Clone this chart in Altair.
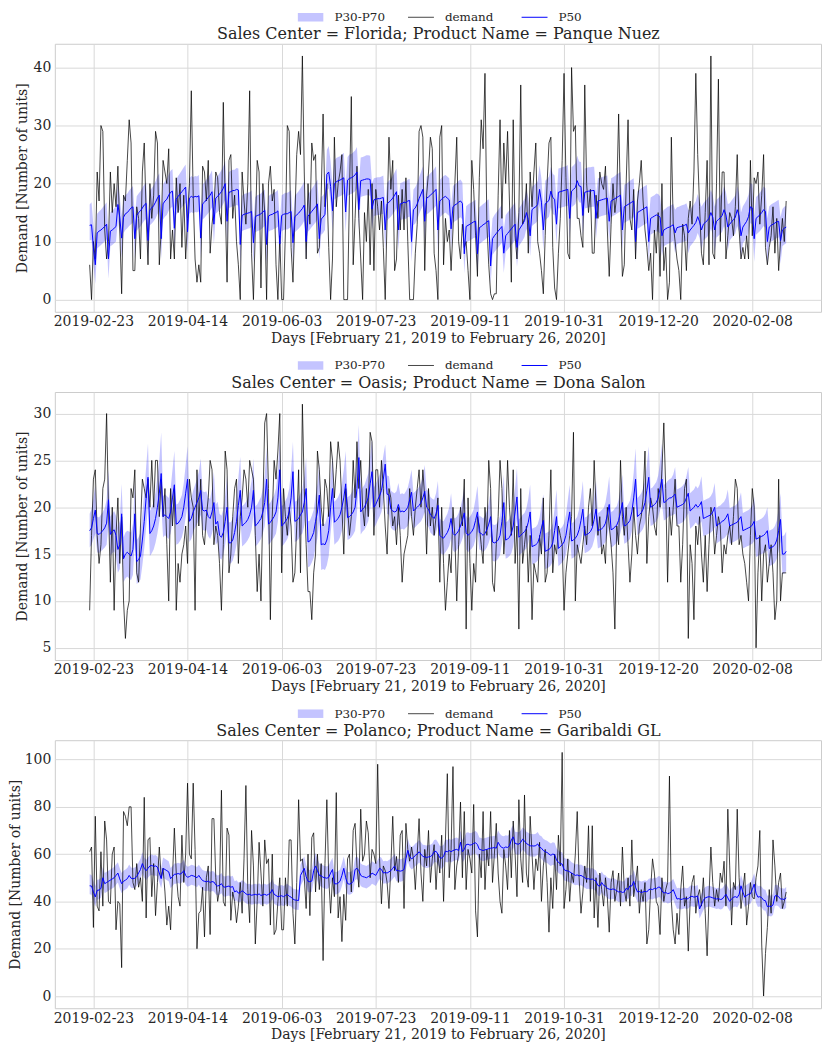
import altair as alt
import pandas as pd

START = "2019-02-21"
END = "2020-02-26"
titles = [
    "Sales Center = Florida; Product Name = Panque Nuez",
    "Sales Center = Oasis; Product Name = Dona Salon",
    "Sales Center = Polanco; Product Name = Garibaldi GL",
]
x_title = "Days [February 21, 2019 to February 26, 2020]"
y_title = "Demand [Number of units]"
x_tick_labels = ["2019-02-23", "2019-04-14", "2019-06-03", "2019-07-23",
                 "2019-09-11", "2019-10-31", "2019-12-20", "2020-02-08"]
y_ticks = [[0, 10, 20, 30, 40], [5, 10, 15, 20, 25, 30], [0, 20, 40, 60, 80, 100]]
y_domains = [[-2.1, 44.1], [3.7, 32.3], [-5.15, 108.15]]
legend_labels = ["P30-P70", "demand", "P50"]

# ---------------- Panel 1: Florida / Panque Nuez ----------------
p1_demand = [6, 0, 10, 7,
    22, 17, 30, 29, 12, 7, 10,  22, 15, 20, 16, 23, 12, 1,
    18, 17, 24, 31, 27, 5, 5,  16, 14, 7, 22, 27, 15, 6,
    20, 14, 18, 29, 27, 6, 12,  24, 22, 20, 26, 7, 12, 7,
    21, 15, 20, 9, 18, 7, 14,  20, 36, 18, 7, 3, 6, 3,
    23, 22, 17, 24, 8, 13, 16,  22, 21, 15, 13, 34, 17, 3,
    24, 25, 14, 18, 10, 6, 0,  22, 17, 13, 20, 36, 8, 0,
    12, 24, 22, 2, 20, 15, 0,  20, 23, 17, 19, 6, 0, 11,
    0, 0, 12, 30, 29, 9, 3,  14, 25, 29, 25, 42, 22, 7,
    20, 13, 27, 24, 25, 8, 9,  18, 32, 16, 20, 9, 0, 7,
    28, 16, 20, 22, 25, 0, 0,  0, 18, 35, 6, 14, 23, 14,
    7, 0, 15, 10, 19, 6, 20,  5, 19, 16, 12, 17, 9, 0,
    14, 28, 19, 24, 5, 7, 18,  12, 19, 12, 21, 10, 0, 0,
    0, 8, 13, 29, 30, 28, 5,  18, 22, 28, 26, 8, 5, 0,
    28, 30, 6, 14, 10, 12, 5,  12, 20, 28, 10, 7, 13, 9,
    10, 5, 0, 24, 19, 11, 4,  21, 31, 26, 39, 13, 6, 1,
    0, 1, 1, 18, 31, 14, 27,  20, 29, 17, 3, 31, 11, 7,
    15, 37, 13, 14, 20, 8, 22,  16, 22, 27, 10, 8, 5, 1,
    11, 20, 27, 28, 9, 2, 0,  8, 14, 24, 39, 21, 8, 7,
    40, 29, 30, 14, 14, 11, 9,  37, 20, 15, 19, 8, 8, 18,
    14, 22, 20, 19, 23, 12, 4,  13, 20, 15, 18, 32, 16, 4,
    6, 20, 31, 14, 12, 19, 7,  17, 20, 24, 17, 12, 9, 5,
    8, 0, 12, 8, 15, 4, 20,  5, 9, 0, 3, 28, 13, 10,
    7, 5, 0, 13, 11, 5, 14,  17, 13, 22, 39, 25, 16, 8,
    6, 15, 24, 6, 42, 8, 7,  20, 38, 10, 22, 22, 7, 11,
    15, 14, 11, 16, 25, 12, 7,  9, 7, 11, 7, 24, 11, 21,
    20, 22, 13, 18, 25, 9, 6,  9, 11, 16, 8, 14, 5, 10,
    14, 10, 17]

p1_p50 = [12.8, 12.9, 9.0, 6.0,
    11.5, 11.8, 12.0, 12.3, 12.6, 13.0, 7.0,  11.8, 12.0, 12.3, 12.6, 16.4, 14.2, 10.6,
    14.2, 14.8, 15.0, 15.4, 15.8, 16.0, 10.5,  14.5, 15.0, 15.3, 15.8, 16.3, 16.6, 10.2,
    15.5, 15.8, 16.2, 16.8, 17.5, 18.0, 10.5,  16.5, 17.0, 17.3, 18.0, 18.5, 18.7, 12.3,
    17.3, 17.8, 18.2, 18.6, 19.0, 19.4, 11.7,  17.5, 17.8, 17.6, 17.8, 17.7, 17.9, 10.6,
    16.5, 16.8, 17.2, 17.6, 18.0, 18.6, 13.0,  17.5, 17.8, 18.2, 18.6, 19.2, 20.0, 13.5,
    18.5, 18.6, 18.8, 18.8, 19.0, 18.9, 9.5,  14.5, 14.7, 14.8, 14.9, 15.0, 15.2, 9.8,
    14.3, 14.5, 14.6, 14.8, 15.1, 15.4, 9.5,  14.4, 14.6, 14.7, 14.9, 15.0, 15.3, 9.6,
    14.5, 14.7, 14.8, 14.8, 15.0, 15.2, 9.8,  14.3, 14.6, 14.9, 15.3, 15.7, 16.3, 10.0,
    14.4, 14.8, 15.2, 15.6, 16.0, 16.5, 10.5,  13.9, 14.2, 14.7, 21.6, 22.0, 19.5, 15.3,
    20.0, 20.3, 20.5, 20.6, 20.8, 21.0, 15.1,  20.6, 20.9, 21.0, 21.2, 21.5, 22.0, 15.5,
    20.5, 20.6, 20.7, 20.8, 20.8, 20.7, 15.6,  17.2, 17.3, 17.4, 17.4, 17.5, 17.6, 12.0,
    16.5, 16.8, 17.1, 17.5, 18.0, 18.6, 12.0,  16.5, 16.6, 16.8, 16.7, 17.0, 17.1, 10.0,
    15.5, 15.8, 16.5, 17.4, 18.2, 19.0, 13.5,  17.5, 17.7, 18.0, 18.3, 18.6, 19.0, 12.0,
    17.0, 17.3, 17.6, 17.8, 17.5, 17.2, 12.2,  16.0, 16.3, 16.5, 16.8, 17.0, 16.6, 7.9,
    12.6, 12.8, 13.0, 13.2, 13.4, 13.5, 7.9,  12.4, 12.6, 12.9, 13.1, 13.4, 13.6, 5.8,
    10.5, 11.0, 11.4, 11.8, 12.2, 12.6, 8.0,  11.0, 11.4, 11.8, 12.2, 12.6, 13.0, 9.0,
    12.0, 12.5, 13.0, 13.6, 15.0, 13.8, 11.0,  15.5, 15.8, 16.0, 16.4, 19.0, 16.8, 12.0,
    16.5, 16.8, 17.1, 18.7, 17.6, 17.3, 13.0,  18.5, 18.6, 18.7, 18.8, 18.9, 19.0, 14.0,
    18.7, 19.0, 19.3, 20.5, 19.6, 19.5, 14.5,  18.5, 18.6, 18.7, 18.7, 18.8, 18.8, 14.0,
    17.0, 17.1, 17.2, 17.3, 17.4, 17.5, 13.5,  17.0, 17.2, 17.4, 17.6, 17.8, 18.0, 12.0,
    16.0, 16.2, 16.4, 16.6, 16.8, 17.0, 10.0,  15.0, 15.2, 15.4, 15.6, 15.8, 16.0, 10.0,
    14.0, 14.2, 14.4, 14.6, 14.5, 14.2, 11.0,  12.0, 12.2, 12.4, 12.5, 12.7, 12.9, 11.5,
    12.4, 12.5, 12.6, 12.7, 12.8, 13.0, 11.5,  12.0, 12.4, 12.8, 13.3, 14.3, 13.4, 12.0,
    13.0, 13.3, 13.6, 14.0, 15.0, 14.2, 12.0,  13.5, 13.8, 14.1, 14.5, 15.5, 14.6, 12.5,
    13.0, 13.4, 13.8, 14.2, 15.5, 14.4, 11.0,  12.5, 13.0, 13.5, 14.3, 16.0, 15.8, 10.5,
    14.0, 14.3, 14.6, 15.0, 15.5, 15.2, 10.0,  12.5, 12.8, 13.0, 13.2, 13.4, 13.5, 10.2,
    12.0, 12.3, 12.5]

p1_p30 = [10.2, 10.3, 6.2, 2.7,
    8.8, 9.1, 9.4, 9.7, 10.0, 10.4, 3.6,  9.2, 9.4, 9.7, 10.0, 13.5, 11.5, 7.2,
    11.5, 12.0, 12.3, 12.7, 13.0, 13.3, 7.0,  11.8, 12.3, 12.6, 13.1, 13.6, 13.9, 6.8,
    12.8, 13.1, 13.5, 14.0, 14.7, 15.2, 7.0,  13.8, 14.3, 14.6, 15.3, 15.8, 16.0, 8.8,
    14.6, 15.1, 15.5, 15.9, 16.3, 16.7, 8.2,  14.8, 15.1, 14.9, 15.1, 15.0, 15.2, 7.1,
    13.8, 14.1, 14.5, 14.9, 15.3, 15.9, 9.5,  14.8, 15.1, 15.5, 15.9, 16.5, 17.2, 10.0,
    15.8, 15.9, 16.1, 16.1, 16.3, 16.2, 6.0,  11.8, 12.0, 12.1, 12.2, 12.3, 12.5, 6.3,
    11.6, 11.8, 11.9, 12.1, 12.4, 12.7, 6.0,  11.7, 11.9, 12.0, 12.2, 12.3, 12.6, 6.1,
    11.8, 12.0, 12.1, 12.1, 12.3, 12.5, 6.3,  11.6, 11.9, 12.2, 12.6, 13.0, 13.6, 6.5,
    11.7, 12.1, 12.5, 12.9, 13.3, 13.8, 7.0,  11.2, 11.5, 12.0, 18.8, 19.2, 16.7, 11.8,
    17.2, 17.5, 17.7, 17.8, 18.0, 18.2, 11.6,  17.8, 18.1, 18.2, 18.4, 18.7, 19.2, 12.0,
    17.7, 17.8, 17.9, 18.0, 18.0, 17.9, 12.1,  14.4, 14.5, 14.6, 14.6, 14.7, 14.8, 8.5,
    13.7, 14.0, 14.3, 14.7, 15.2, 15.8, 8.5,  13.7, 13.8, 14.0, 13.9, 14.2, 14.3, 6.5,
    12.8, 13.1, 13.8, 14.7, 15.5, 16.2, 10.0,  14.7, 14.9, 15.2, 15.5, 15.8, 16.2, 8.5,
    14.2, 14.5, 14.8, 15.0, 14.7, 14.4, 8.7,  13.2, 13.5, 13.7, 14.0, 14.2, 13.8, 4.5,
    9.8, 10.0, 10.2, 10.4, 10.6, 10.7, 4.5,  9.6, 9.8, 10.1, 10.3, 10.6, 10.8, 2.5,
    7.7, 8.2, 8.6, 9.0, 9.4, 9.8, 4.6,  8.2, 8.6, 9.0, 9.4, 9.8, 10.2, 5.6,
    9.2, 9.7, 10.2, 10.8, 12.2, 11.0, 7.5,  12.7, 13.0, 13.2, 13.6, 16.2, 14.0, 8.5,
    13.7, 14.0, 14.3, 15.9, 14.8, 14.5, 9.5,  15.7, 15.8, 15.9, 16.0, 16.1, 16.2, 10.5,
    15.9, 16.2, 16.5, 17.7, 16.8, 16.7, 11.0,  15.7, 15.8, 15.9, 15.9, 16.0, 16.0, 10.5,
    14.2, 14.3, 14.4, 14.5, 14.6, 14.7, 10.0,  14.2, 14.4, 14.6, 14.8, 15.0, 15.2, 8.5,
    13.2, 13.4, 13.6, 13.8, 14.0, 14.2, 6.5,  12.2, 12.4, 12.6, 12.8, 13.0, 13.2, 6.5,
    11.2, 11.4, 11.6, 11.8, 11.7, 11.4, 7.5,  9.2, 9.4, 9.6, 9.7, 9.9, 10.1, 8.0,
    9.6, 9.7, 9.8, 9.9, 10.0, 10.2, 8.0,  9.2, 9.6, 10.0, 10.5, 11.5, 10.6, 8.5,
    10.2, 10.5, 10.8, 11.2, 12.2, 11.4, 8.0,  10.7, 11.0, 11.3, 11.7, 12.7, 11.8, 8.5,
    10.2, 10.6, 11.0, 11.4, 12.7, 11.6, 7.0,  9.7, 10.2, 10.7, 11.5, 13.2, 13.0, 6.5,
    11.2, 11.5, 11.8, 12.2, 12.7, 12.4, 6.0,  9.7, 10.0, 10.2, 10.4, 10.6, 10.7, 6.2,
    9.2, 9.5, 9.7]

p1_p70 = [16.4, 16.8, 12.8, 10.4,
    14.8, 15.2, 15.5, 15.9, 16.3, 16.8, 11.2,  15.0, 15.3, 15.7, 16.1, 20.0, 17.8, 14.5,
    17.4, 18.0, 18.3, 18.8, 19.2, 19.6, 14.4,  17.8, 18.3, 18.7, 19.3, 19.8, 20.2, 14.0,
    18.8, 19.2, 19.7, 20.4, 21.2, 21.8, 14.3,  19.8, 20.4, 20.8, 21.6, 22.2, 22.5, 16.2,
    20.7, 21.3, 21.8, 22.3, 22.8, 23.3, 15.6,  20.9, 21.3, 21.1, 21.3, 21.2, 21.5, 14.5,
    19.8, 20.2, 20.7, 21.1, 21.6, 22.3, 16.9,  21.0, 21.3, 21.8, 22.3, 23.0, 23.9, 17.4,
    22.0, 22.2, 22.4, 22.4, 22.7, 22.6, 13.4,  17.9, 18.2, 18.3, 18.4, 18.5, 18.8, 13.7,
    17.7, 18.0, 18.1, 18.3, 18.7, 19.0, 13.4,  17.8, 18.1, 18.2, 18.4, 18.6, 18.9, 13.5,
    18.0, 18.2, 18.4, 18.4, 18.6, 18.9, 13.8,  17.9, 18.3, 18.7, 19.2, 19.7, 20.4, 14.2,
    18.1, 18.6, 19.1, 19.6, 20.1, 20.7, 14.7,  17.6, 18.0, 18.5, 25.8, 26.5, 23.8, 19.8,
    24.0, 24.4, 24.6, 24.7, 25.0, 25.3, 19.6,  24.6, 25.0, 25.1, 25.4, 25.7, 26.3, 20.0,
    24.5, 24.6, 24.7, 24.9, 24.9, 24.8, 20.1,  20.9, 21.0, 21.1, 21.1, 21.2, 21.4, 16.0,
    20.1, 20.5, 20.8, 21.3, 21.9, 22.6, 16.0,  20.1, 20.2, 20.4, 20.3, 20.7, 20.8, 14.0,
    19.0, 19.4, 20.1, 21.1, 22.0, 23.0, 17.6,  21.2, 21.4, 21.8, 22.1, 22.5, 23.0, 16.0,
    20.6, 21.0, 21.3, 21.5, 21.2, 20.9, 16.2,  19.6, 19.9, 20.1, 20.5, 20.7, 20.2, 11.8,
    16.1, 16.4, 16.6, 16.8, 17.0, 17.2, 11.8,  15.9, 16.2, 16.5, 16.7, 17.1, 17.3, 9.7,
    14.0, 14.6, 15.0, 15.4, 15.9, 16.3, 11.9,  14.6, 15.0, 15.4, 15.9, 16.3, 16.8, 12.9,
    15.7, 16.2, 16.8, 17.4, 19.0, 17.6, 14.9,  19.4, 19.7, 20.0, 20.4, 23.2, 20.8, 16.0,
    20.5, 20.8, 21.2, 22.9, 21.7, 21.4, 17.0,  22.6, 22.7, 22.8, 22.9, 23.0, 23.2, 18.0,
    22.8, 23.1, 23.5, 24.8, 23.8, 23.7, 18.5,  22.6, 22.7, 22.8, 22.8, 22.9, 22.9, 18.0,
    20.9, 21.0, 21.1, 21.2, 21.3, 21.4, 17.4,  20.9, 21.1, 21.3, 21.6, 21.8, 22.0, 16.0,
    19.8, 20.0, 20.2, 20.5, 20.7, 20.9, 14.0,  18.7, 18.9, 19.2, 19.4, 19.6, 19.8, 14.0,
    17.6, 17.8, 18.0, 18.3, 18.2, 17.8, 15.0,  15.5, 15.7, 16.0, 16.1, 16.3, 16.5, 15.5,
    15.9, 16.0, 16.2, 16.3, 16.4, 16.6, 15.5,  15.5, 16.0, 16.4, 17.0, 18.2, 17.1, 16.0,
    16.6, 17.0, 17.3, 17.8, 19.0, 18.0, 16.0,  17.2, 17.5, 17.9, 18.4, 19.6, 18.5, 16.5,
    16.6, 17.1, 17.5, 18.0, 19.6, 18.3, 15.0,  16.1, 16.6, 17.2, 18.1, 20.1, 19.9, 14.5,
    17.7, 18.0, 18.4, 18.9, 19.5, 19.2, 14.0,  16.1, 16.4, 16.6, 16.8, 17.0, 17.2, 14.2,
    15.6, 16.0, 16.2]

# ---------------- Panel 2: Oasis / Dona Salon ----------------
p2_demand = [9, 17, 23, 24,
    17, 14, 16, 22, 23, 30, 20,  12, 20, 9, 17, 21, 14, 19,
    10, 6, 9, 10, 22, 21, 24,  13, 12, 18, 23, 22, 21, 23,
    20, 25, 20, 25, 25, 19, 23,  19, 22, 16, 10, 22, 18, 22,
    9, 14, 12, 15, 16, 18, 14,  23, 21, 20, 9, 24, 18, 23,
    17, 16, 19, 21, 25, 24, 16,  18, 17, 14, 9, 16, 26, 24,
    13, 15, 19, 22, 23, 14, 19,  21, 24, 23, 20, 25, 24, 23,
    17, 11, 15, 10, 20, 29, 30,  22, 8, 19, 25, 23, 26, 30,
    13, 22, 19, 17, 20, 18, 12,  13, 18, 24, 13, 31, 22, 16,
    11, 11, 8, 13, 15, 26, 24,  20, 18, 23, 22, 19, 27, 25,
    21, 24, 27, 25, 20, 15, 22,  20, 17, 19, 25, 21, 27, 22,
    25, 20, 18, 22, 19, 28, 27,  17, 24, 24, 20, 25, 22, 18,
    15, 22, 21, 18, 19, 16, 20,  17, 12, 15, 16, 17, 22, 19,
    17, 20, 22, 24, 20, 24, 21,  15, 22, 18, 20, 17, 19, 21,
    12, 20, 14, 9, 12, 15, 13,  20, 17, 10, 16, 20, 18, 23,
    7, 21, 14, 9, 14, 12, 19,  18, 16, 14, 20, 17, 25, 22,
    12, 11, 16, 19, 25, 22, 15,  18, 25, 20, 17, 24, 14, 18,
    7, 22, 14, 16, 18, 12, 17,  8, 14, 13, 12, 17, 15, 21,
    12, 13, 17, 24, 13, 16, 15,  18, 17, 16, 9, 13, 15, 17,
    19, 28, 10, 16, 15, 14, 16,  18, 16, 20, 22, 18, 25, 20,
    17, 19, 15, 16, 14, 20, 18,  16, 13, 7, 18, 16, 25, 19,
    17, 20, 16, 12, 15, 20, 17,  15, 18, 19, 21, 26, 14, 19,
    21, 20, 18, 17, 22, 20, 24,  29, 22, 12, 20, 17, 20, 23,
    18, 18, 12, 16, 22, 23, 6,  16, 14, 8, 18, 16, 19, 15,
    12, 17, 11, 16, 20, 19, 15,  17, 19, 18, 13, 16, 15, 17,
    18, 16, 19, 23, 22, 16, 17,  15, 14, 12, 10, 17, 22, 20,
    5, 13, 17, 10, 15, 16, 12,  14, 16, 13, 8, 10, 23, 10,
    13, 13, 13]

p2_p50 = [17.5, 17.8, 18.8, 19.7,
    17.2, 17.1, 17.3, 17.5, 17.8, 18.3, 20.8,  17.1, 17.4, 17.6, 17.0, 15.5, 16.0, 19.3,
    14.5, 15.0, 15.2, 15.0, 14.8, 15.5, 19.3,  14.2, 14.4, 14.8, 16.5, 18.5, 21.0, 23.2,
    17.2, 17.5, 18.0, 18.8, 20.0, 21.5, 23.6,  19.0, 19.2, 19.0, 18.8, 19.5, 21.0, 22.4,
    18.2, 18.3, 18.6, 19.0, 20.0, 21.5, 23.0,  18.5, 18.8, 19.5, 20.0, 20.5, 21.0, 21.8,
    19.7, 19.6, 19.7, 19.0, 18.8, 19.5, 20.5,  18.2, 18.5, 17.0, 16.8, 17.3, 18.5, 20.0,
    16.2, 16.2, 16.5, 17.3, 18.5, 20.2, 21.8,  18.0, 18.2, 18.4, 18.7, 19.2, 20.0, 21.8,
    18.0, 18.2, 18.5, 18.8, 19.5, 20.5, 23.0,  18.2, 18.4, 18.7, 19.0, 19.5, 21.0, 24.0,
    18.0, 18.2, 18.5, 18.8, 19.5, 21.0, 23.8,  18.5, 18.6, 18.8, 19.2, 19.5, 20.5, 22.0,
    16.3, 16.4, 16.8, 17.3, 18.5, 19.5, 21.3,  16.0, 16.1, 16.0, 16.5, 17.5, 20.0, 22.0,
    18.4, 18.6, 18.8, 19.2, 20.0, 21.0, 22.5,  18.9, 19.0, 19.2, 19.5, 20.0, 22.0, 25.3,
    19.5, 19.8, 20.0, 20.5, 21.0, 22.5, 23.8,  20.0, 20.3, 20.8, 21.2, 21.8, 23.0, 24.6,
    21.4, 21.3, 19.8, 19.6, 19.5, 19.6, 20.3,  19.5, 19.6, 19.5, 19.7, 20.0, 20.8, 21.6,
    19.6, 19.8, 20.0, 20.2, 20.5, 21.0, 21.7,  20.0, 19.8, 19.2, 19.0, 18.8, 19.3, 20.2,
    17.0, 16.8, 16.7, 17.0, 17.3, 17.8, 18.8,  17.2, 17.0, 17.2, 17.5, 18.0, 18.6, 19.4,
    17.3, 17.0, 17.2, 17.4, 17.8, 18.6, 19.5,  17.3, 17.2, 17.0, 17.2, 17.6, 18.2, 19.0,
    16.3, 16.2, 16.3, 16.5, 17.0, 18.5, 20.5,  16.5, 16.6, 16.8, 17.2, 18.0, 19.5, 21.1,
    16.8, 17.0, 17.2, 17.4, 17.7, 18.4, 19.5,  15.8, 15.9, 16.0, 16.2, 16.8, 17.8, 18.6,
    15.3, 15.4, 15.5, 15.7, 16.2, 17.5, 19.0,  15.6, 15.8, 16.0, 16.3, 17.0, 18.3, 19.5,
    16.4, 16.5, 16.7, 17.0, 17.6, 18.6, 19.8,  17.0, 17.1, 17.2, 17.4, 17.8, 18.7, 19.8,
    17.5, 17.6, 17.7, 17.9, 18.3, 19.2, 20.3,  17.6, 17.7, 17.9, 18.1, 18.6, 19.5, 20.5,
    18.0, 18.1, 18.3, 18.6, 19.5, 21.0, 23.0,  19.0, 19.2, 19.4, 19.8, 20.5, 21.8, 23.2,
    20.0, 20.1, 20.3, 20.5, 21.0, 22.0, 23.0,  20.5, 20.6, 20.8, 21.0, 21.0, 21.2, 21.4,
    20.0, 20.1, 20.2, 20.3, 20.5, 21.0, 21.5,  19.6, 19.8, 20.0, 20.3, 20.0, 20.2, 20.6,
    18.8, 18.9, 19.0, 19.1, 19.2, 19.5, 20.0,  18.0, 18.2, 18.3, 18.5, 18.6, 18.9, 19.3,
    18.0, 18.1, 18.2, 18.3, 18.4, 18.7, 19.0,  17.5, 17.6, 17.7, 17.8, 17.9, 18.1, 18.5,
    16.6, 16.7, 16.8, 16.9, 17.0, 17.2, 17.5,  15.6, 15.7, 15.8, 16.0, 16.5, 17.5, 18.7,
    15.0, 15.0, 15.3]

p2_p30 = [15.7, 16.0, 16.6, 17.2,
    15.2, 15.1, 15.3, 15.5, 15.7, 16.0, 18.2,  14.8, 15.1, 15.3, 14.6, 13.0, 13.4, 16.7,
    12.0, 12.4, 12.6, 12.4, 12.2, 12.8, 16.5,  11.8, 12.0, 12.3, 13.8, 15.6, 17.8, 20.0,
    14.8, 15.1, 15.5, 16.2, 17.2, 18.5, 20.3,  16.8, 17.0, 16.8, 16.6, 17.2, 18.4, 19.6,
    16.0, 16.1, 16.4, 16.8, 17.6, 18.9, 20.2,  16.3, 16.6, 17.3, 17.8, 18.2, 18.6, 19.2,
    17.6, 17.5, 17.6, 16.9, 16.6, 17.2, 18.0,  16.0, 16.3, 14.6, 14.4, 14.9, 16.0, 17.4,
    14.0, 14.0, 14.3, 15.0, 16.0, 17.6, 19.0,  15.8, 16.0, 16.2, 16.5, 16.9, 17.6, 19.2,
    15.8, 16.0, 16.3, 16.6, 17.2, 18.0, 20.3,  16.0, 16.2, 16.5, 16.8, 17.2, 18.5, 21.2,
    15.8, 16.0, 16.3, 16.6, 17.2, 18.5, 21.0,  16.3, 16.4, 16.6, 17.0, 17.2, 18.0, 19.4,
    13.6, 13.7, 14.1, 14.6, 15.7, 16.7, 18.6,  13.3, 13.4, 13.3, 13.8, 14.8, 17.2, 19.3,
    16.0, 16.2, 16.4, 16.8, 17.5, 18.4, 19.8,  16.5, 16.6, 16.8, 17.1, 17.5, 19.4, 22.5,
    17.1, 17.4, 17.6, 18.0, 18.5, 19.8, 21.0,  17.8, 18.1, 18.6, 19.0, 19.5, 20.5, 22.0,
    19.3, 19.2, 17.8, 17.6, 17.5, 17.6, 18.2,  17.6, 17.7, 17.6, 17.8, 18.0, 18.7, 19.4,
    17.7, 17.9, 18.1, 18.3, 18.5, 18.9, 19.5,  18.1, 17.9, 17.3, 17.1, 16.9, 17.3, 18.0,
    15.2, 15.0, 14.9, 15.2, 15.5, 15.9, 16.7,  15.4, 15.2, 15.4, 15.7, 16.1, 16.6, 17.3,
    15.5, 15.2, 15.4, 15.6, 15.9, 16.6, 17.4,  15.5, 15.4, 15.2, 15.4, 15.7, 16.2, 16.9,
    14.3, 14.2, 14.3, 14.5, 14.9, 16.2, 18.2,  14.5, 14.6, 14.8, 15.1, 15.8, 17.2, 18.8,
    14.8, 15.0, 15.2, 15.4, 15.6, 16.2, 17.2,  13.9, 14.0, 14.1, 14.3, 14.8, 15.6, 16.4,
    13.4, 13.5, 13.6, 13.8, 14.2, 15.4, 16.7,  13.7, 13.9, 14.1, 14.4, 15.0, 16.1, 17.2,
    14.5, 14.6, 14.8, 15.1, 15.6, 16.4, 17.5,  15.1, 15.2, 15.3, 15.5, 15.8, 16.5, 17.5,
    15.6, 15.7, 15.8, 16.0, 16.3, 17.0, 18.0,  15.7, 15.8, 16.0, 16.2, 16.6, 17.3, 18.2,
    16.1, 16.2, 16.4, 16.6, 17.4, 18.7, 20.4,  17.0, 17.2, 17.4, 17.7, 18.3, 19.4, 20.6,
    18.0, 18.1, 18.3, 18.5, 18.9, 19.7, 20.5,  18.6, 18.7, 18.9, 19.1, 19.1, 19.2, 19.3,
    18.1, 18.2, 18.3, 18.4, 18.6, 19.0, 19.4,  17.7, 17.9, 18.1, 18.4, 18.1, 18.2, 18.5,
    16.9, 17.0, 17.1, 17.2, 17.3, 17.5, 17.9,  16.1, 16.3, 16.4, 16.6, 16.7, 16.9, 17.2,
    16.1, 16.2, 16.3, 16.4, 16.5, 16.7, 16.9,  15.6, 15.7, 15.8, 15.9, 16.0, 16.1, 16.4,
    14.7, 14.8, 14.9, 15.0, 15.1, 15.2, 15.4,  13.7, 13.8, 13.9, 14.1, 14.5, 15.3, 16.4,
    12.9, 12.9, 13.2]

p2_p70 = [19.3, 19.8, 21.0, 22.3,
    19.0, 18.9, 19.2, 19.5, 19.9, 20.8, 24.0,  19.0, 19.3, 19.6, 19.1, 17.8, 18.6, 22.5,
    16.8, 17.3, 17.5, 17.4, 17.3, 18.3, 22.6,  16.5, 16.8, 17.3, 19.3, 21.6, 24.3, 26.8,
    19.6, 20.0, 20.6, 21.6, 23.2, 25.0, 28.0,  21.2, 21.4, 21.2, 21.0, 22.0, 24.0, 26.0,
    20.3, 20.4, 20.8, 21.3, 22.6, 24.5, 26.5,  20.6, 21.0, 21.8, 22.4, 23.0, 23.8, 25.2,
    21.7, 21.6, 21.7, 21.0, 20.9, 22.0, 23.8,  20.3, 20.6, 19.3, 19.1, 19.8, 21.3, 23.4,
    18.4, 18.4, 18.8, 19.7, 21.2, 23.2, 25.4,  20.1, 20.3, 20.6, 21.0, 21.7, 22.8, 25.2,
    20.1, 20.3, 20.7, 21.1, 22.0, 23.4, 26.4,  20.3, 20.5, 20.9, 21.3, 22.0, 24.0, 27.2,
    20.1, 20.3, 20.7, 21.1, 22.0, 24.0, 27.0,  20.6, 20.7, 21.0, 21.5, 22.0, 23.3, 25.3,
    18.5, 18.6, 19.1, 19.7, 21.2, 22.5, 24.8,  18.2, 18.3, 18.2, 18.9, 20.1, 23.0, 25.6,
    20.6, 20.8, 21.1, 21.6, 22.6, 24.0, 26.0,  21.1, 21.2, 21.5, 21.9, 22.6, 25.2, 28.8,
    21.7, 22.1, 22.4, 23.0, 23.6, 25.5, 27.3,  22.1, 22.5, 23.0, 23.5, 24.2, 25.5, 26.7,
    23.4, 23.3, 21.8, 21.6, 21.5, 21.7, 22.6,  21.4, 21.5, 21.4, 21.7, 22.1, 23.0, 24.0,
    21.5, 21.7, 21.9, 22.2, 22.6, 23.3, 24.5,  21.9, 21.7, 21.1, 20.9, 20.8, 21.5, 22.8,
    18.8, 18.6, 18.5, 18.9, 19.3, 20.0, 21.5,  19.0, 18.8, 19.0, 19.4, 20.0, 20.9, 22.2,
    19.1, 18.8, 19.0, 19.3, 19.8, 20.9, 22.3,  19.1, 19.0, 18.8, 19.1, 19.6, 20.4, 21.7,
    18.2, 18.1, 18.2, 18.5, 19.1, 21.0, 23.5,  18.4, 18.5, 18.8, 19.3, 20.3, 22.1, 24.2,
    18.7, 18.9, 19.2, 19.4, 19.9, 20.9, 22.4,  17.7, 17.8, 17.9, 18.2, 18.9, 20.2, 21.4,
    17.2, 17.3, 17.4, 17.7, 18.3, 19.9, 21.9,  17.5, 17.7, 17.9, 18.3, 19.2, 20.8, 22.4,
    18.3, 18.4, 18.7, 19.0, 19.8, 21.1, 22.8,  18.9, 19.0, 19.2, 19.4, 20.0, 21.2, 22.8,
    19.4, 19.5, 19.7, 19.9, 20.5, 21.7, 23.3,  19.5, 19.6, 19.9, 20.1, 20.8, 22.0, 23.5,
    19.9, 20.0, 20.3, 20.7, 21.8, 23.7, 26.3,  21.0, 21.2, 21.5, 22.0, 22.9, 24.5, 26.5,
    22.0, 22.1, 22.4, 22.7, 23.4, 24.8, 26.8,  22.4, 22.5, 22.8, 23.0, 23.1, 23.5, 24.3,
    21.9, 22.0, 22.1, 22.3, 22.6, 23.3, 24.3,  21.5, 21.7, 21.9, 22.3, 22.0, 22.4, 23.3,
    20.7, 20.8, 20.9, 21.0, 21.2, 21.6, 22.6,  19.9, 20.1, 20.2, 20.4, 20.6, 21.0, 21.9,
    19.9, 20.0, 20.1, 20.2, 20.4, 20.8, 21.6,  19.4, 19.5, 19.6, 19.7, 19.9, 20.2, 21.1,
    18.5, 18.6, 18.7, 18.8, 19.0, 19.3, 20.0,  17.5, 17.6, 17.7, 18.0, 18.6, 19.8, 21.5,
    16.9, 17.0, 17.4]

# ---------------- Panel 3: Polanco / Garibaldi GL ----------------
p3_demand = [61, 63, 29, 76,
    38, 36, 61, 38, 74, 66, 40,  39, 60, 63, 28, 40, 39, 12,
    78, 76, 72, 80, 80, 48, 45,  56, 46, 50, 40, 84, 33, 66,
    67, 42, 56, 34, 48, 63, 50,  54, 44, 30, 38, 28, 50, 71,
    52, 42, 38, 68, 48, 60, 90,  60, 58, 90, 62, 20, 35, 36,
    46, 25, 50, 55, 26, 75, 75,  50, 40, 45, 87, 40, 38, 71,
    68, 32, 44, 40, 31, 38, 48,  35, 58, 89, 45, 31, 70, 55,
    22, 40, 65, 52, 38, 66, 56,  58, 30, 60, 26, 28, 40, 50,
    28, 28, 50, 38, 66, 66, 35,  22, 48, 83, 57, 58, 50, 37,
    60, 34, 67, 69, 44, 60, 45,  56, 15, 56, 83, 50, 35, 50,
    42, 86, 33, 42, 23, 43, 32,  58, 60, 44, 70, 73, 55, 46,
    79, 57, 60, 74, 69, 50, 62,  60, 56, 98, 58, 39, 55, 53,
    48, 37, 55, 76, 53, 59, 48,  68, 70, 37, 73, 62, 57, 63,
    58, 45, 60, 75, 52, 40, 62,  55, 70, 48, 58, 64, 45, 60,
    52, 68, 40, 66, 94, 50, 62,  97, 45, 55, 60, 82, 50, 78,
    45, 62, 58, 52, 81, 36, 25,  60, 50, 78, 45, 62, 55, 78,
    48, 60, 73, 52, 40, 35, 62,  55, 45, 70, 50, 74, 60, 42,
    83, 58, 48, 85, 52, 46, 76,  60, 45, 58, 53, 65, 40, 55,
    62, 48, 27, 50, 37, 60, 45,  68, 55, 103, 37, 45, 58, 40,
    52, 48, 60, 78, 50, 35, 44,  55, 48, 72, 40, 72, 33, 50,
    29, 52, 45, 38, 50, 42, 27,  48, 53, 40, 45, 52, 38, 63,
    45, 40, 50, 38, 66, 42, 48,  55, 35, 45, 40, 48, 22, 28,
    45, 58, 52, 40, 38, 26, 50,  40, 45, 48, 93, 40, 28, 22,
    35, 26, 45, 55, 38, 42, 19,  40, 48, 51, 35, 42, 45, 38,
    50, 35, 17, 42, 63, 48, 38,  45, 40, 52, 48, 57, 38, 79,
    55, 30, 48, 45, 79, 50, 37,  45, 52, 30, 38, 48, 42, 41,
    50, 55, 70, 22, 0, 18, 29,  45, 35, 66, 55, 40, 48, 52,
    37, 40, 44]

p3_p50 = [46.6, 46.5, 44.0, 41.9,
    44.7, 44.8, 45.5, 50.0, 47.5, 48.0, 48.5,  49.0, 49.5, 50.0, 51.0, 52.0, 49.5, 47.5,
    48.5, 49.0, 49.6, 51.0, 49.8, 49.6, 49.8,  50.5, 52.0, 53.5, 56.0, 54.0, 53.0, 54.0,
    55.0, 55.2, 54.8, 55.0, 54.5, 52.0, 49.6,  54.0, 53.5, 53.0, 52.5, 49.6, 50.5, 51.5,
    51.5, 51.8, 51.5, 52.0, 53.0, 51.0, 50.2,  50.5, 51.0, 50.8, 50.5, 50.0, 51.0, 49.8,
    48.8, 48.5, 48.3, 48.6, 48.0, 48.4, 48.2,  47.0, 46.5, 46.8, 47.5, 46.2, 46.0, 46.3,
    46.5, 46.0, 46.3, 44.0, 44.5, 43.5, 43.8,  44.5, 44.0, 43.2, 42.8, 43.0, 42.6, 42.8,
    43.0, 42.7, 43.2, 42.5, 42.8, 43.0, 42.6,  43.0, 43.5, 45.0, 43.0, 42.5, 42.0, 42.2,
    42.4, 42.0, 42.5, 43.0, 42.2, 41.8, 41.0,  40.6, 40.5, 40.4, 51.0, 52.5, 54.0, 50.5,
    48.5, 48.3, 48.6, 53.0, 55.0, 53.0, 51.0,  50.8, 50.2, 50.0, 49.8, 50.2, 52.0, 53.5,
    47.5, 47.4, 47.8, 48.5, 51.0, 54.0, 50.0,  47.5, 47.3, 47.6, 48.5, 53.5, 54.0, 53.0,
    51.0, 50.5, 50.3, 50.0, 50.5, 51.0, 52.0,  51.5, 51.0, 52.5, 54.0, 53.5, 52.0, 52.2,
    52.0, 52.5, 53.0, 54.0, 55.0, 53.0, 53.0,  52.8, 53.0, 53.5, 58.0, 61.6, 59.0, 58.0,
    58.5, 59.5, 60.0, 61.0, 60.0, 59.0, 58.8,  58.6, 58.8, 59.0, 59.5, 61.0, 61.2, 60.0,
    58.5, 58.3, 59.0, 61.3, 61.0, 61.5, 61.0,  61.5, 61.8, 62.0, 61.5, 65.0, 61.0, 62.0,
    64.0, 64.2, 63.8, 64.0, 64.5, 64.8, 64.0,  62.0, 61.8, 61.5, 61.8, 62.0, 62.3, 62.5,
    62.6, 62.8, 62.5, 65.0, 63.5, 62.8, 62.5,  63.0, 62.8, 63.5, 66.0, 67.3, 64.5, 64.3,
    64.2, 65.0, 66.3, 65.6, 64.5, 64.0, 63.5,  63.5, 63.4, 63.6, 64.3, 63.0, 62.5, 61.5,
    61.0, 60.7, 60.0, 59.5, 60.0, 59.8, 57.5,  56.5, 56.0, 55.8, 53.5, 53.0, 52.9, 52.5,
    52.0, 51.5, 51.0, 51.2, 50.8, 51.0, 50.5,  50.0, 49.5, 49.6, 49.3, 49.5, 49.0, 48.5,
    46.7, 46.5, 48.0, 46.8, 46.5, 45.5, 45.2,  45.0, 45.3, 45.0, 44.5, 44.0, 44.2, 43.8,
    44.0, 45.6, 45.0, 46.6, 46.5, 48.5, 46.0,  44.0, 44.2, 43.8, 44.0, 44.3, 44.0, 45.0,
    45.2, 45.0, 45.5, 45.3, 46.0, 46.0, 44.5,  43.5, 43.8, 43.3, 43.5, 44.0, 45.0, 43.0,
    41.0, 41.2, 40.8, 41.0, 41.3, 41.0, 41.2,  42.0, 42.2, 41.8, 42.0, 42.3, 36.8, 38.8,
    40.5, 41.5, 41.8, 42.0, 41.8, 41.5, 41.3,  41.0, 41.2, 40.8, 41.0, 42.0, 43.0, 41.5,
    40.0, 41.0, 41.8, 42.0, 41.6, 43.0, 46.6,  44.0, 41.8, 42.5, 43.0, 43.2, 45.0, 47.3,
    43.5, 41.8, 42.0, 41.6, 40.5, 40.3, 37.8,  38.0, 37.8, 38.5, 42.3, 42.5, 42.0, 41.0,
    41.0, 40.8, 41.5]

p3_p30 = [43.0, 42.8, 40.2, 37.8,
    40.8, 40.9, 41.6, 46.0, 43.5, 44.0, 44.5,  45.0, 45.5, 46.0, 47.0, 48.0, 45.5, 43.5,
    44.5, 45.0, 45.6, 47.0, 45.8, 45.6, 45.8,  46.5, 48.0, 49.5, 52.0, 50.0, 49.0, 50.0,
    51.0, 51.2, 50.8, 51.0, 50.5, 48.0, 45.6,  50.0, 49.5, 49.0, 48.5, 45.6, 46.5, 47.5,
    47.5, 47.8, 47.5, 48.0, 49.0, 47.0, 46.2,  46.5, 47.0, 46.8, 46.5, 46.0, 47.0, 45.8,
    44.8, 44.5, 44.3, 44.6, 44.0, 44.4, 44.2,  43.0, 42.5, 42.8, 43.5, 42.2, 42.0, 42.3,
    42.5, 42.0, 42.3, 40.0, 40.5, 39.5, 39.8,  40.5, 40.0, 39.2, 38.8, 39.0, 38.6, 38.8,
    39.0, 38.7, 39.2, 38.5, 38.8, 39.0, 38.6,  39.0, 39.5, 41.0, 39.0, 38.5, 38.0, 38.2,
    38.4, 38.0, 38.5, 39.0, 38.2, 37.8, 37.0,  36.6, 36.5, 36.4, 46.5, 48.0, 49.5, 46.0,
    44.0, 43.8, 44.1, 48.5, 50.5, 48.5, 46.5,  46.3, 45.7, 45.5, 45.3, 45.7, 47.5, 49.0,
    43.0, 42.9, 43.3, 44.0, 46.5, 49.5, 45.5,  43.0, 42.8, 43.1, 44.0, 49.0, 49.5, 48.5,
    46.5, 46.0, 45.8, 45.5, 46.0, 46.5, 47.5,  47.0, 46.5, 48.0, 49.5, 49.0, 47.5, 47.7,
    47.5, 48.0, 48.5, 49.5, 50.5, 48.5, 48.5,  48.3, 48.5, 49.0, 53.5, 57.0, 54.5, 53.5,
    54.0, 55.0, 55.5, 56.5, 55.5, 54.5, 54.3,  54.1, 54.3, 54.5, 55.0, 56.5, 56.7, 55.5,
    54.0, 53.8, 54.5, 56.8, 56.5, 57.0, 56.5,  57.0, 57.3, 57.5, 57.0, 60.5, 56.5, 57.5,
    59.5, 59.7, 59.3, 59.5, 60.0, 60.3, 59.5,  57.5, 57.3, 57.0, 57.3, 57.5, 57.8, 58.0,
    58.1, 58.3, 58.0, 60.5, 59.0, 58.3, 58.0,  58.5, 58.3, 59.0, 61.5, 62.8, 60.0, 59.8,
    59.7, 60.5, 61.8, 61.1, 60.0, 59.5, 59.0,  59.0, 58.9, 59.1, 59.8, 58.5, 58.0, 57.0,
    56.5, 56.2, 55.5, 55.0, 55.5, 55.3, 53.0,  52.0, 51.5, 51.3, 49.0, 48.5, 48.4, 48.0,
    47.8, 47.3, 46.8, 47.0, 46.6, 46.8, 46.3,  45.8, 45.3, 45.4, 45.1, 45.3, 44.8, 44.3,
    42.5, 42.3, 43.8, 42.6, 42.3, 41.3, 41.0,  40.8, 41.1, 40.8, 40.3, 39.8, 40.0, 39.6,
    39.8, 41.4, 40.8, 42.4, 42.3, 44.3, 41.8,  39.8, 40.0, 39.6, 39.8, 40.1, 39.8, 40.8,
    41.0, 40.8, 41.3, 41.1, 41.8, 41.8, 40.3,  39.3, 39.6, 39.1, 39.3, 39.8, 40.8, 38.8,
    36.8, 37.0, 36.6, 36.8, 37.1, 36.8, 37.0,  37.8, 38.0, 37.6, 37.8, 38.1, 32.8, 34.6,
    36.3, 37.3, 37.6, 37.8, 37.6, 37.3, 37.1,  36.8, 37.0, 36.6, 36.8, 37.8, 38.8, 37.3,
    35.8, 36.8, 37.6, 37.8, 37.4, 38.8, 42.4,  39.8, 37.6, 38.3, 38.8, 39.0, 40.8, 43.1,
    39.3, 37.6, 37.8, 37.4, 36.3, 36.1, 33.6,  33.8, 33.6, 34.3, 38.1, 38.3, 37.8, 36.8,
    36.8, 36.6, 37.3]

p3_p70 = [51.5, 51.2, 48.8, 46.5,
    49.2, 49.3, 50.0, 54.6, 52.0, 52.5, 53.0,  53.5, 54.0, 54.5, 55.6, 56.6, 54.0, 52.0,
    53.0, 53.5, 54.1, 55.6, 54.3, 54.1, 54.3,  55.0, 56.6, 58.0, 60.8, 58.6, 57.6, 58.6,
    59.6, 59.8, 59.4, 59.6, 59.0, 56.5, 54.1,  58.6, 58.0, 57.5, 57.0, 54.1, 55.0, 56.0,
    56.0, 56.3, 56.0, 56.5, 57.6, 55.5, 54.7,  55.0, 55.5, 55.3, 55.0, 54.5, 55.5, 54.3,
    53.3, 53.0, 52.8, 53.1, 52.5, 52.9, 52.7,  51.5, 51.0, 51.3, 52.0, 50.7, 50.5, 50.8,
    51.0, 50.5, 50.8, 48.5, 49.0, 48.0, 48.3,  49.0, 48.5, 47.7, 47.3, 47.5, 47.1, 47.3,
    47.5, 47.2, 47.7, 47.0, 47.3, 47.5, 47.1,  47.5, 48.0, 49.5, 47.5, 47.0, 46.5, 46.7,
    46.9, 46.5, 47.0, 47.5, 46.7, 46.3, 45.5,  45.1, 45.0, 44.9, 55.5, 57.5, 59.0, 55.5,
    53.5, 53.3, 53.6, 58.0, 60.5, 58.0, 56.0,  55.8, 55.2, 55.0, 54.8, 55.2, 57.0, 58.5,
    52.5, 52.4, 52.8, 53.5, 56.0, 59.0, 55.0,  52.5, 52.3, 52.6, 53.5, 58.5, 59.0, 58.0,
    56.0, 55.5, 55.3, 55.0, 55.5, 56.0, 57.0,  56.5, 56.0, 57.5, 59.0, 58.5, 57.0, 57.2,
    57.0, 57.5, 58.0, 59.0, 60.0, 58.0, 58.0,  57.8, 58.0, 58.5, 63.0, 66.6, 64.0, 63.0,
    63.5, 64.5, 65.0, 66.0, 65.0, 64.0, 63.8,  63.6, 63.8, 64.0, 64.5, 66.0, 66.2, 65.0,
    63.5, 63.3, 64.0, 66.3, 66.0, 66.5, 66.0,  66.5, 66.8, 67.0, 66.5, 70.0, 66.0, 67.0,
    69.0, 69.2, 68.8, 69.0, 69.5, 69.8, 69.0,  67.0, 66.8, 66.5, 66.8, 67.0, 67.3, 67.5,
    67.6, 67.8, 67.5, 70.0, 68.5, 67.8, 67.5,  68.0, 67.8, 68.5, 71.0, 72.3, 69.5, 69.3,
    69.2, 70.0, 71.3, 70.6, 69.5, 69.0, 68.5,  68.5, 68.4, 68.6, 69.3, 68.0, 67.5, 66.5,
    66.0, 65.7, 65.0, 64.5, 65.0, 64.8, 62.5,  61.5, 61.0, 60.8, 58.5, 58.0, 57.9, 57.5,
    56.6, 56.1, 55.6, 55.8, 55.4, 55.6, 55.1,  54.6, 54.1, 54.2, 53.9, 54.1, 53.6, 53.1,
    51.3, 51.1, 52.6, 51.4, 51.1, 50.1, 49.8,  49.6, 49.9, 49.6, 49.1, 48.6, 48.8, 48.4,
    48.6, 50.2, 49.6, 51.2, 51.1, 53.3, 50.6,  48.6, 48.8, 48.4, 48.6, 48.9, 48.6, 49.6,
    49.8, 49.6, 50.1, 49.9, 50.6, 50.6, 49.1,  48.1, 48.4, 47.9, 48.1, 48.6, 49.6, 47.6,
    45.6, 45.8, 45.4, 45.6, 45.9, 45.6, 45.8,  46.6, 46.8, 46.4, 46.6, 46.9, 41.4, 43.4,
    45.1, 46.1, 46.4, 46.6, 46.4, 46.1, 45.9,  45.6, 45.8, 45.4, 45.6, 46.6, 47.6, 46.1,
    44.6, 45.6, 46.4, 46.6, 46.2, 47.6, 51.2,  48.6, 46.4, 47.1, 47.6, 47.8, 49.6, 51.9,
    48.1, 46.4, 46.6, 46.2, 45.1, 44.9, 42.4,  42.6, 42.4, 43.1, 46.9, 47.1, 46.6, 45.6,
    45.6, 45.4, 46.1]

# ---------------- styling constants ----------------
FONT = "DejaVu Serif"
TXT = "#262626"
PLOT_W, PLOT_H = 769, 269
SPACING = 80.5
y_title_x = [-32.3, -32.3, -39.0]

def ms(ts):
    return int(pd.Timestamp(ts).value // 10**6)

x_domain = [ms(pd.Timestamp(START) - pd.Timedelta(hours=444)),
            ms(pd.Timestamp(END) + pd.Timedelta(hours=444))]
x_tick_ms = [ms(t) for t in x_tick_labels]

panels_data = [
    (p1_demand, p1_p50, p1_p30, p1_p70),
    (p2_demand, p2_p50, p2_p30, p2_p70),
    (p3_demand, p3_p50, p3_p30, p3_p70),
]


def make_panel(i, demand, p50, p30, p70):
    n = min(len(demand), len(p50), len(p30), len(p70))
    dates = list(pd.date_range(START, periods=n, freq="D").strftime("%Y-%m-%d"))
    band_df = pd.DataFrame({"date": dates, "p30": p30[:n], "p70": p70[:n],
                            "band": legend_labels[0]})
    line_df = pd.concat([
        pd.DataFrame({"date": dates, "value": demand[:n], "series": legend_labels[1]}),
        pd.DataFrame({"date": dates, "value": p50[:n], "series": legend_labels[2]}),
    ], ignore_index=True)

    xs = alt.Scale(type="utc", domain=x_domain)
    ys = alt.Scale(domain=y_domains[i], nice=False, zero=False)
    y_axis = alt.Axis(
        values=y_ticks[i], title=y_title, grid=True, ticks=False, domain=False,
        labelPadding=4, labelFontSize=14, labelFont=FONT, labelColor=TXT,
        titleFont=FONT, titleFontSize=14, titleColor=TXT,
        titleFontWeight="normal", titleX=y_title_x[i], titleY=PLOT_H / 2,
        titleAngle=270, titleAlign="center", titleBaseline="middle",
        labelFlush=False, labelOverlap=False)
    series_dom = [legend_labels[1], legend_labels[2]]
    stroke_legend = alt.Legend(
        title=None, orient="none", direction="horizontal",
        legendX=361.5, legendY=-32.6, symbolType="M-3,0H3", symbolSize=75.1,
        symbolStrokeWidth=1, labelOffset=18, columnPadding=26, padding=0,
        labelFont=FONT, labelFontSize=12, labelColor=TXT)
    fill_legend = alt.Legend(
        title=None, orient="none", legendX=250.7, legendY=-32.6,
        symbolType="M-3,-1H3V1H-3Z", symbolSize=72.8, symbolOpacity=0.23,
        symbolStrokeWidth=0, labelOffset=18, padding=0,
        labelFont=FONT, labelFontSize=12, labelColor=TXT)

    band = alt.Chart(band_df).mark_area(opacity=0.23).encode(
        x=alt.X("date:T", scale=xs, axis=alt.Axis(
            values=x_tick_ms, format="%Y-%m-%d", title=x_title, grid=True,
            ticks=False, domain=False, labelPadding=3, labelFontSize=14,
            labelFont=FONT, labelColor=TXT, titleFont=FONT, titleFontSize=14,
            titleColor=TXT, titleFontWeight="normal", titleY=30.5,
            titleBaseline="alphabetic", labelFlush=False, labelOverlap=False)),
        y=alt.Y("p30:Q", scale=ys, axis=y_axis),
        y2="p70:Q",
        fill=alt.Fill("band:N", scale=alt.Scale(domain=[legend_labels[0]],
                                                range=["#0000ff"]),
                      legend=fill_legend),
    )
    lines = alt.Chart(line_df).mark_line().encode(
        x=alt.X("date:T", scale=xs, axis=alt.Axis(
            orient="top", title=titles[i], labels=False, ticks=False,
            domain=False, grid=False, titleFont=FONT, titleFontSize=16,
            titleColor=TXT, titleFontWeight="normal", titlePadding=5,
            titleBaseline="alphabetic")),
        y=alt.Y("value:Q", scale=ys, axis=y_axis),
        stroke=alt.Stroke("series:N", scale=alt.Scale(
            domain=series_dom, range=["#000000", "#0000ff"]), legend=stroke_legend),
        strokeWidth=alt.StrokeWidth("series:N", scale=alt.Scale(
            domain=series_dom, range=[0.8, 1.0]), legend=None),
        opacity=alt.Opacity("series:N", scale=alt.Scale(
            domain=series_dom, range=[0.9, 1.0]), legend=None),
    )
    return alt.layer(band, lines).resolve_axis(x="independent").properties(
        width=PLOT_W, height=PLOT_H)


panels = [make_panel(i, *d) for i, d in enumerate(panels_data)]

chart = alt.vconcat(*panels, spacing=SPACING, bounds="flush",
                    padding={"left": 0, "top": 0, "right": 0, "bottom": 0}
).resolve_scale(
    fill="independent", stroke="independent", strokeWidth="independent",
    opacity="independent", x="independent", y="independent"
).resolve_legend(fill="independent", stroke="independent").configure(
    font=FONT, background="white"
).configure_view(stroke="#cccccc", strokeWidth=1).configure_axis(
    gridColor="#d9d9d9", gridWidth=1
)

chart.save("out.html", embed_options={"renderer": "svg", "actions": False})
